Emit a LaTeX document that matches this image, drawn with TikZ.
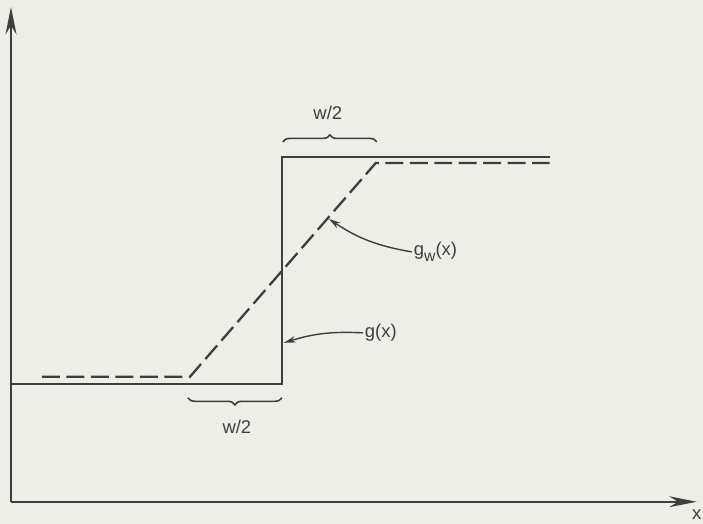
\documentclass[tikz,border=0pt]{standalone}
\usepackage{fontspec}
\setmainfont{Liberation Sans}
\usetikzlibrary{arrows.meta,decorations.pathreplacing}

\begin{document}
\begin{tikzpicture}[x=0.2mm,y=0.2mm,font=\fontsize{10.5}{12}\selectfont,
  every node/.style={text=inkgrey,inner sep=1pt},
  axis/.style={draw=inkgrey,line width=1.1pt,-{Stealth[length=5.5mm,width=2.2mm]}},
  curve/.style={draw=inkgrey,line width=1.3pt},
  dashpat/.style={dash pattern=on 3.6mm off 1.3mm},
  bracket/.style={draw=inkgrey,line width=0.9pt,decorate,decoration={brace,amplitude=4pt}},
  pointer/.style={draw=inkgrey,line width=0.8pt,-{Stealth[length=2.4mm,width=1.3mm]}}]
  \definecolor{paper}{RGB}{237,238,231}
  \definecolor{inkgrey}{RGB}{62,62,60}
  %% page in pixel units: 703 x 524, origin bottom left
  \fill[paper] (0,0) rectangle (703,524);

  %% axes
  \draw[axis] (11,22) -- (697,22);
  \draw[axis] (11,22) -- (11,517);
  \node (xlabel) at (697,9) {x};

  %% g(x): the sharp step, and g_w(x): the same step spread over w
  \draw[curve] (11,140) -- (282,140) -- (282,367) -- (550,367);
  \draw[curve,dashpat] (42,147) -- (190,147) -- (376,361) -- (550,361);

  %% the two half widths
  \draw[bracket] (283,382) -- (377,382);
  \node (wtop) at (328,411) {w/2};
  \draw[bracket] (282,126) -- (188,126);
  \node (wbot) at (237,97) {w/2};

  %% labels with pointers
  \coordinate (gpt) at (284,181);
  \coordinate (gwpt) at (329,305);
  \node[anchor=west] (glabel) at (363,191) {g(x)};
  \node[anchor=west] (gwlabel) at (412,272) {g\raisebox{-0.6ex}{\small w}(x)};
  \draw[pointer] (glabel.west) to[bend right=10] (gpt);
  \draw[pointer] (gwlabel.west) to[bend left=12] (gwpt);
\end{tikzpicture}
\end{document}
